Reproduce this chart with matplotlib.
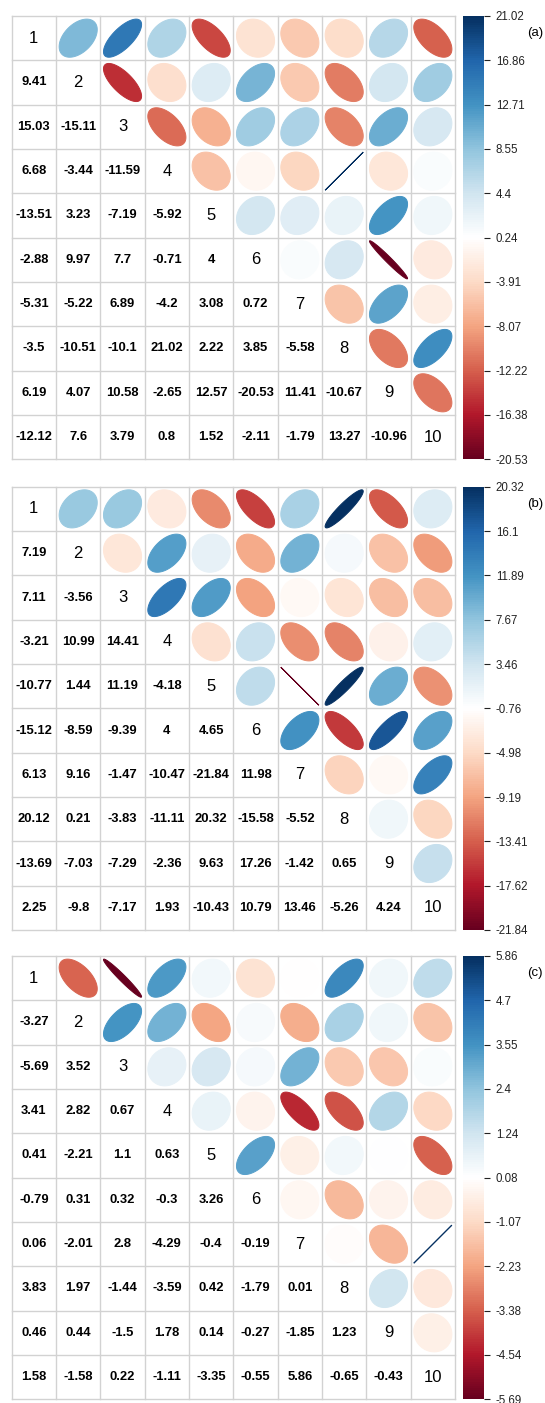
import numpy as np
import matplotlib
matplotlib.use('Agg')
import matplotlib.pyplot as plt
from matplotlib.colors import LinearSegmentedColormap, Normalize
from matplotlib.patches import Polygon
from matplotlib.cm import ScalarMappable

plt.rcParams['font.family'] = ['Liberation Sans', 'DejaVu Sans']

var_labels = [str(i) for i in range(1, 11)]
panel_names = ['(a)', '(b)', '(c)']

# lower triangles (row i: columns 1..i-1)
lower_a = [
    [9.41],
    [15.03, -15.11],
    [6.68, -3.44, -11.59],
    [-13.51, 3.23, -7.19, -5.92],
    [-2.88, 9.97, 7.7, -0.71, 4],
    [-5.31, -5.22, 6.89, -4.2, 3.08, 0.72],
    [-3.5, -10.51, -10.1, 21.02, 2.22, 3.85, -5.58],
    [6.19, 4.07, 10.58, -2.65, 12.57, -20.53, 11.41, -10.67],
    [-12.12, 7.6, 3.79, 0.8, 1.52, -2.11, -1.79, 13.27, -10.96],
]
lower_b = [
    [7.19],
    [7.11, -3.56],
    [-3.21, 10.99, 14.41],
    [-10.77, 1.44, 11.19, -4.18],
    [-15.12, -8.59, -9.39, 4, 4.65],
    [6.13, 9.16, -1.47, -10.47, -21.84, 11.98],
    [20.12, 0.21, -3.83, -11.11, 20.32, -15.58, -5.52],
    [-13.69, -7.03, -7.29, -2.36, 9.63, 17.26, -1.42, 0.65],
    [2.25, -9.8, -7.17, 1.93, -10.43, 10.79, 13.46, -5.26, 4.24],
]
lower_c = [
    [-3.27],
    [-5.69, 3.52],
    [3.41, 2.82, 0.67],
    [0.41, -2.21, 1.1, 0.63],
    [-0.79, 0.31, 0.32, -0.3, 3.26],
    [0.06, -2.01, 2.8, -4.29, -0.4, -0.19],
    [3.83, 1.97, -1.44, -3.59, 0.42, -1.79, 0.01],
    [0.46, 0.44, -1.5, 1.78, 0.14, -0.27, -1.85, 1.23],
    [1.58, -1.58, 0.22, -1.11, -3.35, -0.55, 5.86, -0.65, -0.43],
]

cbar_labels_a = ['-20.53', '-16.38', '-12.22', '-8.07', '-3.91', '0.24', '4.4', '8.55', '12.71', '16.86', '21.02']
cbar_labels_b = ['-21.84', '-17.62', '-13.41', '-9.19', '-4.98', '-0.76', '3.46', '7.67', '11.89', '16.1', '20.32']
cbar_labels_c = ['-5.69', '-4.54', '-3.38', '-2.23', '-1.07', '0.08', '1.24', '2.4', '3.55', '4.7', '5.86']

rdbu = ["#67001F", "#B2182B", "#D6604D", "#F4A582", "#FDDBC7", "#FFFFFF",
        "#D1E5F0", "#92C5DE", "#4393C3", "#2166AC", "#053061"]
cmap = LinearSegmentedColormap.from_list('corrRdBu', rdbu, N=200)


def build(lower):
    n = len(lower) + 1
    M = np.zeros((n, n))
    for i, row in enumerate(lower, start=1):
        for j, v in enumerate(row):
            M[i, j] = v
            M[j, i] = v
    return M


def fmt(v):
    return f"{v:.2f}".rstrip('0').rstrip('.')


W, H = 545, 1403
fig = plt.figure(figsize=(W / 100, H / 100), dpi=100)

tops = [16, 486.7, 956]
size = 443.3
gx = 11.7
panels = [(lower_a, cbar_labels_a), (lower_b, cbar_labels_b), (lower_c, cbar_labels_c)]
grid_col = '#d2d2d2'
k = np.linspace(0, 2 * np.pi, 99)

for p, ((lower, cblabels), top) in enumerate(zip(panels, tops)):
    M = build(lower)
    n = M.shape[0]
    lowvals = np.array([v for r in lower for v in r])
    vmin, vmax = lowvals.min(), lowvals.max()
    maxabs = np.abs(lowvals).max()
    norm = Normalize(vmin, vmax)
    bottom = 1 - (top + size) / H
    ax = fig.add_axes([gx / W, bottom, size / W, size / H])
    ax.set_xlim(0.5, n + 0.5)
    ax.set_ylim(n + 0.5, 0.5)
    ax.axis('off')
    for g in np.arange(0.5, n + 1):
        ax.plot([g, g], [0.5, n + 0.5], color=grid_col, lw=1.0, clip_on=False, zorder=1)
        ax.plot([0.5, n + 0.5], [g, g], color=grid_col, lw=1.0, clip_on=False, zorder=1)
    for i in range(n):
        for j in range(n):
            x, y = j + 1, i + 1
            if i == j:
                ax.text(x, y, var_labels[i], ha='center', va='center', fontsize=12, color='black')
            elif i > j:
                ax.text(x, y, fmt(M[i, j]), ha='center', va='center', fontsize=9.4,
                        fontweight='bold', color='black')
            else:
                v = M[i, j]
                rho = np.clip(v / maxabs, -1, 1)
                d = np.arccos(rho)
                ex = x + 0.86 * np.cos(k + d / 2) / 2
                ey = y - 0.86 * np.cos(k - d / 2) / 2
                c = cmap(norm(v))
                ax.add_patch(Polygon(np.column_stack([ex, ey]), closed=True,
                                     facecolor=c, edgecolor=c, lw=0.7, zorder=2))
    cax = fig.add_axes([463.3 / W, bottom, 21 / W, size / H])
    sm = ScalarMappable(norm=norm, cmap=cmap)
    ticks = np.linspace(vmin, vmax, 11)
    cb = fig.colorbar(sm, cax=cax, ticks=ticks)
    cb.ax.set_yticklabels(cblabels)
    cb.outline.set_visible(False)
    cax.tick_params(axis='y', length=4.3, width=0.8, labelsize=8.3, pad=4, colors='#222222')
    fig.text(535 / W, 1 - (top + 17) / H, panel_names[p], ha='center', va='center',
             fontsize=9.5, color='black')

fig.savefig('out.png', dpi=100)
